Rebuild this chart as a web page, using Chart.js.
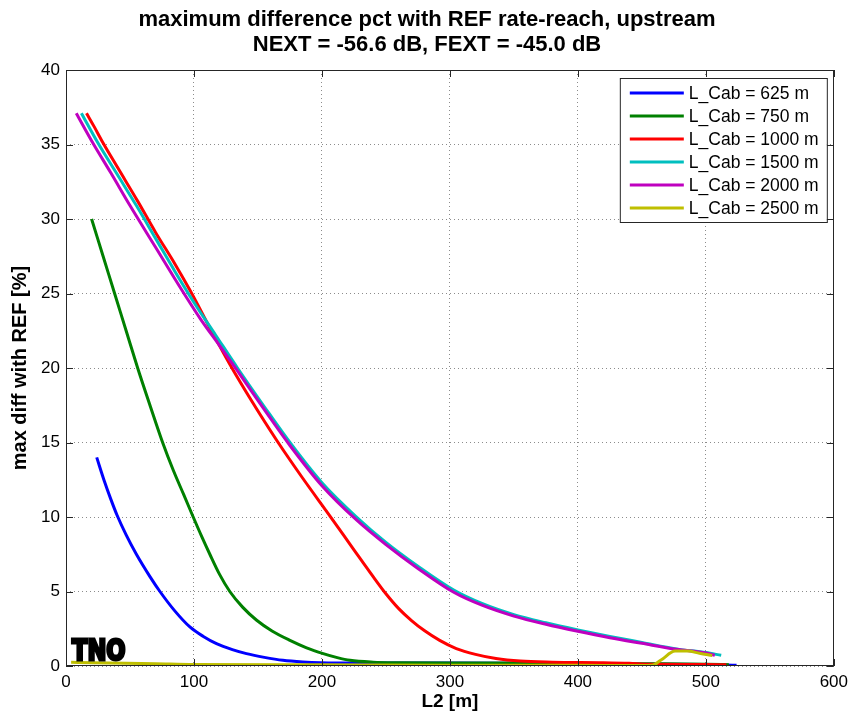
<!DOCTYPE html>
<html><head><meta charset="utf-8">
<script src="https://cdn.jsdelivr.net/npm/chart.js@4/dist/chart.umd.min.js"></script>
<style>html,body{margin:0;padding:0;background:#fff}#wrap{width:854px;height:717px}</style>
</head><body><div id="wrap"><canvas id="c" width="854" height="717"></canvas></div>
<script>
const titleLines = ['maximum difference pct with REF rate-reach, upstream', 'NEXT = -56.6 dB, FEXT = -45.0 dB'];
const xAxisTitle = 'L2 [m]';
const yAxisTitle = 'max diff with REF [%]';
const seriesLabels = ['L_Cab = 625 m','L_Cab = 750 m','L_Cab = 1000 m','L_Cab = 1500 m','L_Cab = 2000 m','L_Cab = 2500 m'];
const seriesColors = ['#0000ff','#008000','#ff0000','#00bfbf','#bf00bf','#bfbf00'];

const x625 = [24,30,35,40,47,55,65.6,73.4,85,96.8,107,117.6,130,141,155,169.5,185,199,230,300,350,400,450,500,524];
const y625 = [14,12.4,11.2,10.1,8.8,7.5,6.0,5.0,3.7,2.62,2.0,1.5,1.1,0.83,0.58,0.38,0.27,0.22,0.2,0.2,0.18,0.15,0.12,0.1,0.05];

const x750 = [20,29,38,47,56,66,75.5,84,92,99.4,106,112.4,120,128,138,149,161,175,188,201,212,222,240,260,300,350,400,450,500,518];
const y750 = [30,27.5,25,22.5,20,17.4,15,13.1,11.5,10,8.7,7.5,6.15,5,3.95,3.07,2.35,1.72,1.22,0.83,0.56,0.38,0.26,0.22,0.2,0.2,0.18,0.15,0.12,0.08];

const x1000 = [16,22,29,40,56,70,85,97,113,129,145,165,185,206,225,240,250,260,270,280,292,305,320,336,355,380,420,440,455,500,516];
const y1000 = [37.1,36.2,35.1,33.5,31.2,29.1,27.0,25.2,22.6,20.1,17.8,15.1,12.6,10.1,7.8,6.0,4.85,3.85,3.05,2.38,1.72,1.17,0.78,0.5,0.33,0.26,0.22,0.18,0.12,0.1,0.08];

const x1500 = [12,25,40,55,70,85,100,117,134,155,175,200,227,250,275,303,325,350,375,400,425,450,477,500,512];
const y1500 = [37.1,35.1,33.0,30.9,28.7,26.5,24.4,22.2,20.0,17.4,15.0,12.3,10.0,8.3,6.7,5.1,4.2,3.45,2.9,2.42,1.98,1.58,1.15,0.9,0.72];

const x2000 = [8,21,35,50,70,90,105,120,134,155,175,200,227,250,275,303,325,350,375,400,425,450,477,500,507];
const y2000 = [37.1,35.1,33.1,30.9,28.1,25.3,23.3,21.5,19.8,17.2,14.8,12.1,9.8,8.15,6.55,4.95,4.08,3.35,2.8,2.33,1.9,1.52,1.12,0.87,0.72];

const x2500 = [4,20,70,100,200,300,400,440,458,465,476,486,495,505];
const y2500 = [0.25,0.22,0.15,0.1,0.08,0.05,0.05,0.03,0.05,0.4,1.0,1.0,0.85,0.7];

const xTicks = [0,100,200,300,400,500,600];
const yTicks = [0,5,10,15,20,25,30,35,40];

const xs = [x625,x750,x1000,x1500,x2000,x2500];
const ys = [y625,y750,y1000,y1500,y2000,y2500];

const FONT = "'Liberation Sans', Arial, Helvetica, sans-serif";

const datasets = seriesLabels.map((lab,i)=>({
  label: lab,
  data: xs[i].map((xv,j)=>({x:xv, y:ys[i][j]})),
  borderColor: seriesColors[i],
  backgroundColor: seriesColors[i],
  borderWidth: 3,
  pointRadius: 0,
  fill: false,
  cubicInterpolationMode: 'monotone',
  order: seriesLabels.length - 1 - i
}));

const framePlugin = {
  id: 'frame',
  afterDraw(chart){
    const {ctx, chartArea:a, scales:{x, y}} = chart;
    ctx.save();
    ctx.strokeStyle = '#262626';
    ctx.lineWidth = 1;
    ctx.strokeRect(Math.round(a.left)+0.5, Math.round(a.top)+0.5, Math.round(a.right-a.left)-1, Math.round(a.bottom-a.top)-1);
    ctx.beginPath();
    const tl = 7;
    x.ticks.forEach(t=>{
      const p = Math.round(x.getPixelForValue(t.value))+0.5;
      ctx.moveTo(p, a.bottom); ctx.lineTo(p, a.bottom-tl);
      ctx.moveTo(p, a.top); ctx.lineTo(p, a.top+tl);
    });
    y.ticks.forEach(t=>{
      const p = Math.round(y.getPixelForValue(t.value))+0.5;
      ctx.moveTo(a.left, p); ctx.lineTo(a.left+tl, p);
      ctx.moveTo(a.right, p); ctx.lineTo(a.right-tl, p);
    });
    ctx.stroke();

    // legend box
    const bx = a.right - 214, by = a.top + 8, bw = 207, bh = 144;
    ctx.fillStyle = '#fff';
    ctx.fillRect(bx, by, bw, bh);
    ctx.strokeStyle = '#262626';
    ctx.strokeRect(bx+0.5, by+0.5, bw, bh);
    ctx.font = '17.5px ' + FONT;
    ctx.textBaseline = 'middle';
    ctx.textAlign = 'left';
    chart.data.datasets.forEach((ds,i)=>{
      const yy = by + 15 + i*23;
      ctx.strokeStyle = ds.borderColor;
      ctx.lineWidth = 3;
      ctx.beginPath();
      ctx.moveTo(bx+10, yy); ctx.lineTo(bx+64, yy);
      ctx.stroke();
      ctx.fillStyle = '#000';
      ctx.fillText(ds.label, bx+69, yy+1);
    });

    // TNO logo
    ctx.save();
    ctx.translate(a.left + 6, a.bottom - 6);
    ctx.scale(0.78, 1);
    ctx.font = "bold 29px 'DejaVu Sans', sans-serif";
    ctx.textBaseline = 'alphabetic';
    ctx.fillStyle = '#000';
    ctx.strokeStyle = '#000';
    ctx.lineWidth = 3;
    ctx.strokeText('TNO', 0, 0);
    ctx.fillText('TNO', 0, 0);
    ctx.restore();
    ctx.restore();
  }
};

new Chart(document.getElementById('c'), {
  type: 'line',
  data: { datasets },
  options: {
    responsive: false,
    animation: false,
    layout: { padding: { left: 19, right: 19, top: 0, bottom: 0 } },
    plugins: {
      legend: { display: false },
      tooltip: { enabled: false },
      title: {
        display: true, text: titleLines, color: '#000',
        font: { family: FONT, size: 22, weight: 'bold', lineHeight: 1.15 },
        padding: { top: 7, bottom: 12.4 }
      }
    },
    scales: {
      x: {
        type: 'linear', min: 0, max: 600,
        afterBuildTicks(s){ s.ticks = xTicks.map(v=>({value:v})); },
        ticks: { color: '#000', font: { family: FONT, size: 17 }, padding: 6, maxRotation: 0 },
        grid: { color: '#8c8c8c', drawTicks: false, lineWidth: 1 },
        border: { display: false, dash: [1, 3] },
        title: { display: true, text: xAxisTitle, color: '#000', font: { family: FONT, size: 19, weight: 'bold' }, padding: { top: 2, bottom: 4 } },
        afterFit(s){ s.height = 51; }
      },
      y: {
        type: 'linear', min: 0, max: 40,
        afterBuildTicks(s){ s.ticks = yTicks.map(v=>({value:v})); },
        ticks: { color: '#000', font: { family: FONT, size: 17 }, padding: 6 },
        grid: { color: '#8c8c8c', drawTicks: false, lineWidth: 1 },
        border: { display: false, dash: [1, 3] },
        title: { display: true, text: yAxisTitle, color: '#000', font: { family: FONT, size: 20, weight: 'bold' }, padding: { top: -11, bottom: 4 } },
        afterFit(s){ s.width = 47; }
      }
    }
  },
  plugins: [framePlugin]
});
</script>
</body></html>
